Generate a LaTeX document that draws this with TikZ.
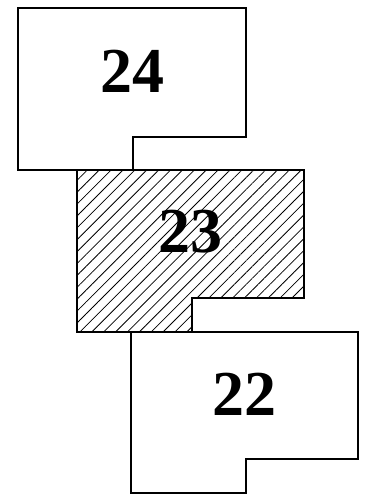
\documentclass[tikz,border=0pt]{standalone}
\usepackage{fontspec}
\setmainfont{Liberation Serif}
\usetikzlibrary{patterns.meta}

\begin{document}
\begin{tikzpicture}[
    x=1pt, y=-1pt,
    every node/.style={font=\fontsize{64}{64}\selectfont\bfseries},
    lot/.style={line width=1.3pt, line join=miter},
    hatched/.style={pattern={Lines[angle=45, distance=8.4pt, line width=0.8pt]}},
]
\useasboundingbox (0,0) rectangle (366,495);

% ============================================================
% Lot 24 (top)
% ============================================================
\draw[lot] (18,8) -- (246,8) -- (246,137) -- (133,137) -- (133,170) -- (18,170) -- cycle;
\node (lot24) at (132,71) {24};

% ============================================================
% Lot 23 (middle, hatched)
% ============================================================
\fill[hatched] (77,170) -- (304,170) -- (304,298) -- (192,298) -- (192,332) -- (77,332) -- cycle;
\draw[lot] (77,170) -- (304,170) -- (304,298) -- (192,298) -- (192,332) -- (77,332) -- cycle;
\node (lot23) at (190,232) {23};

% ============================================================
% Lot 22 (bottom)
% ============================================================
\draw[lot] (131,332) -- (358,332) -- (358,459) -- (246,459) -- (246,493) -- (131,493) -- cycle;
\node (lot22) at (244,394) {22};

\end{tikzpicture}
\end{document}
